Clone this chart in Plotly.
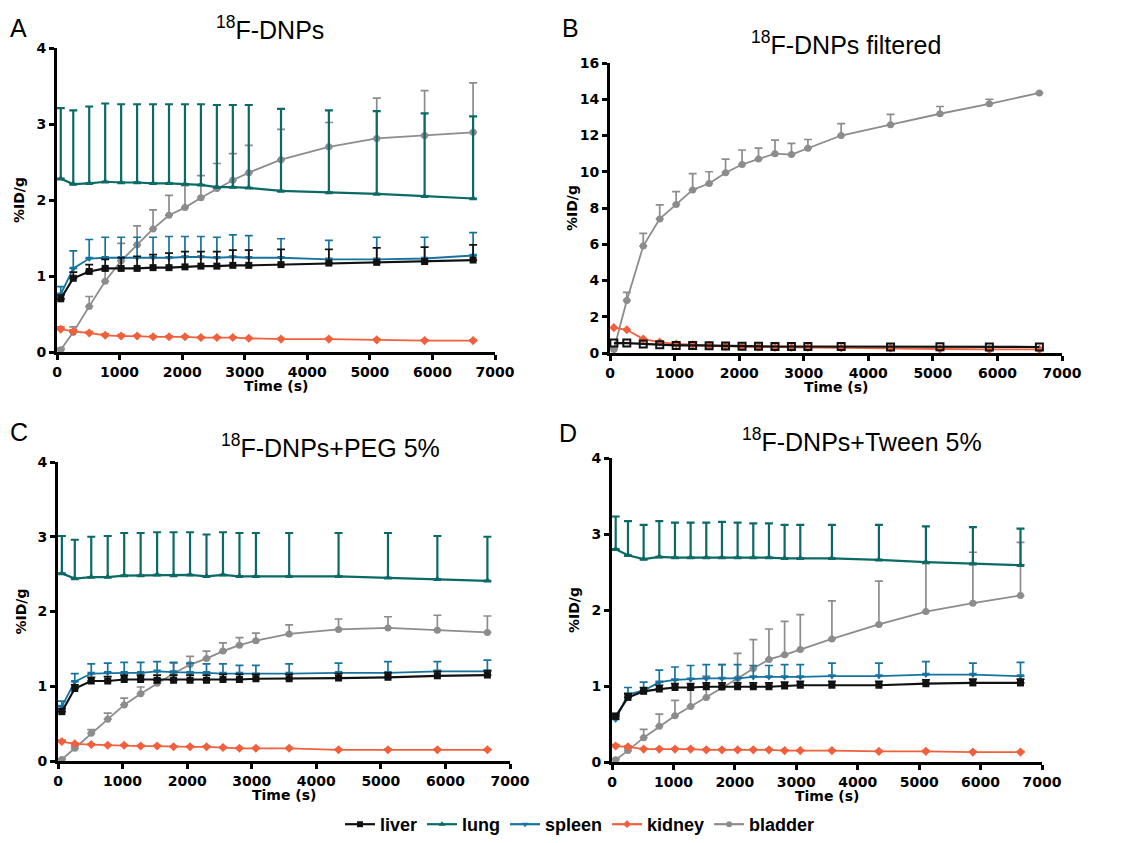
import plotly.graph_objects as go

# ---------------- data ----------------
time_s = [60, 260, 515, 770, 1025, 1280, 1535, 1790, 2045, 2300, 2555, 2810, 3065, 3580, 4345, 5110, 5875, 6650]

organs = ["liver", "lung", "spleen", "kidney", "bladder"]

# Panel A: 18F-DNPs
A_liver = [0.70, 0.97, 1.06, 1.10, 1.10, 1.10, 1.11, 1.11, 1.12, 1.13, 1.13, 1.14, 1.14, 1.15, 1.17, 1.18, 1.19, 1.21]
A_liver_up = [0.75, 1.05, 1.15, 1.22, 1.24, 1.26, 1.28, 1.30, 1.32, 1.32, 1.32, 1.34, 1.34, 1.35, 1.35, 1.37, 1.38, 1.41]
A_lung = [2.28, 2.21, 2.22, 2.24, 2.23, 2.23, 2.22, 2.22, 2.21, 2.20, 2.17, 2.17, 2.16, 2.12, 2.10, 2.08, 2.05, 2.02]
A_lung_up = [3.21, 3.18, 3.23, 3.27, 3.26, 3.26, 3.26, 3.26, 3.26, 3.26, 3.25, 3.25, 3.25, 3.20, 3.18, 3.17, 3.14, 3.10]
A_spleen = [0.76, 1.10, 1.23, 1.24, 1.24, 1.24, 1.24, 1.24, 1.25, 1.25, 1.24, 1.25, 1.24, 1.24, 1.22, 1.22, 1.23, 1.27]
A_spleen_up = [0.86, 1.33, 1.48, 1.51, 1.51, 1.51, 1.51, 1.52, 1.52, 1.52, 1.51, 1.54, 1.53, 1.49, 1.47, 1.51, 1.51, 1.57]
A_kidney = [0.30, 0.27, 0.25, 0.22, 0.21, 0.21, 0.20, 0.20, 0.20, 0.19, 0.19, 0.19, 0.18, 0.17, 0.17, 0.16, 0.15, 0.15]
A_kidney_up = [0.33, 0.29, 0.27, 0.24, 0.23, 0.22, 0.21, 0.21, 0.21, 0.20, 0.20, 0.20, 0.19, 0.18, 0.18, 0.17, 0.16, 0.16]
A_bladder = [0.03, 0.26, 0.60, 0.93, 1.20, 1.41, 1.62, 1.80, 1.90, 2.03, 2.15, 2.26, 2.36, 2.53, 2.70, 2.81, 2.85, 2.89]
A_bladder_up = [0.05, 0.33, 0.73, 1.07, 1.43, 1.66, 1.87, 2.06, 2.19, 2.32, 2.48, 2.61, 2.72, 2.93, 3.02, 3.34, 3.44, 3.54]

# Panel B: 18F-DNPs filtered
B_liver = [0.55, 0.55, 0.50, 0.45, 0.42, 0.42, 0.40, 0.38, 0.37, 0.37, 0.36, 0.36, 0.36, 0.36, 0.33, 0.35, 0.33, 0.33]
B_kidney = [1.40, 1.28, 0.77, 0.60, 0.50, 0.45, 0.40, 0.38, 0.35, 0.33, 0.30, 0.30, 0.30, 0.28, 0.27, 0.22, 0.20, 0.20]
B_bladder = [0.20, 2.90, 5.90, 7.40, 8.20, 9.00, 9.35, 9.95, 10.40, 10.70, 11.00, 10.95, 11.30, 12.00, 12.60, 13.20, 13.75, 14.35]
B_bladder_up = [0.30, 3.34, 6.60, 8.17, 8.90, 9.90, 10.00, 10.70, 11.20, 11.30, 11.74, 11.56, 11.78, 12.66, 13.17, 13.60, 14.00, 14.35]

# Panel C: 18F-DNPs+PEG 5%
C_liver = [0.66, 0.97, 1.07, 1.07, 1.09, 1.09, 1.08, 1.08, 1.08, 1.08, 1.09, 1.09, 1.10, 1.10, 1.11, 1.12, 1.14, 1.15]
C_liver_up = [0.70, 1.02, 1.12, 1.13, 1.15, 1.15, 1.15, 1.15, 1.15, 1.15, 1.16, 1.16, 1.16, 1.16, 1.17, 1.18, 1.20, 1.21]
C_lung = [2.51, 2.44, 2.46, 2.46, 2.48, 2.48, 2.49, 2.48, 2.49, 2.47, 2.49, 2.47, 2.47, 2.47, 2.47, 2.45, 2.43, 2.41]
C_lung_up = [3.01, 2.96, 3.00, 3.01, 3.05, 3.05, 3.06, 3.06, 3.06, 3.03, 3.06, 3.05, 3.05, 3.05, 3.05, 3.05, 3.01, 3.00]
C_spleen = [0.73, 1.06, 1.17, 1.18, 1.18, 1.18, 1.20, 1.19, 1.18, 1.18, 1.17, 1.17, 1.16, 1.17, 1.18, 1.18, 1.20, 1.20]
C_spleen_up = [0.80, 1.17, 1.30, 1.31, 1.32, 1.32, 1.33, 1.32, 1.31, 1.30, 1.30, 1.28, 1.28, 1.30, 1.31, 1.33, 1.33, 1.35]
C_kidney = [0.26, 0.23, 0.22, 0.21, 0.21, 0.20, 0.20, 0.19, 0.19, 0.19, 0.18, 0.17, 0.17, 0.17, 0.15, 0.15, 0.15, 0.15]
C_kidney_up = [0.28, 0.24, 0.23, 0.22, 0.22, 0.21, 0.21, 0.20, 0.20, 0.20, 0.19, 0.18, 0.18, 0.18, 0.16, 0.16, 0.16, 0.16]
C_bladder = [0.02, 0.17, 0.37, 0.56, 0.75, 0.90, 1.04, 1.17, 1.29, 1.37, 1.47, 1.55, 1.61, 1.70, 1.76, 1.78, 1.75, 1.72]
C_bladder_up = [0.03, 0.20, 0.42, 0.64, 0.84, 0.99, 1.10, 1.31, 1.40, 1.47, 1.58, 1.65, 1.71, 1.82, 1.90, 1.93, 1.95, 1.94]

# Panel D: 18F-DNPs+Tween 5%
D_liver = [0.60, 0.85, 0.93, 0.96, 0.98, 0.98, 0.99, 0.99, 0.99, 0.99, 0.99, 1.00, 1.01, 1.01, 1.01, 1.03, 1.04, 1.04]
D_liver_up = [0.64, 0.90, 0.98, 1.01, 1.03, 1.03, 1.04, 1.04, 1.04, 1.04, 1.04, 1.05, 1.06, 1.06, 1.06, 1.08, 1.09, 1.09]
D_lung = [2.80, 2.72, 2.67, 2.70, 2.69, 2.69, 2.69, 2.69, 2.69, 2.69, 2.69, 2.68, 2.68, 2.68, 2.66, 2.63, 2.61, 2.59]
D_lung_up = [3.23, 3.17, 3.12, 3.17, 3.15, 3.15, 3.15, 3.16, 3.15, 3.14, 3.14, 3.12, 3.12, 3.12, 3.12, 3.10, 3.09, 3.07]
D_spleen = [0.56, 0.89, 0.94, 1.05, 1.08, 1.09, 1.10, 1.10, 1.10, 1.12, 1.12, 1.12, 1.12, 1.13, 1.13, 1.15, 1.15, 1.13]
D_spleen_up = [0.62, 0.98, 1.05, 1.21, 1.25, 1.27, 1.28, 1.28, 1.28, 1.27, 1.27, 1.28, 1.28, 1.30, 1.30, 1.32, 1.30, 1.31]
D_kidney = [0.21, 0.20, 0.17, 0.17, 0.17, 0.17, 0.16, 0.16, 0.16, 0.16, 0.16, 0.15, 0.15, 0.15, 0.14, 0.14, 0.13, 0.13]
D_kidney_up = [0.23, 0.21, 0.18, 0.18, 0.18, 0.18, 0.17, 0.17, 0.17, 0.17, 0.17, 0.16, 0.16, 0.16, 0.15, 0.15, 0.14, 0.14]
D_bladder = [0.03, 0.15, 0.32, 0.47, 0.61, 0.73, 0.85, 0.98, 1.10, 1.23, 1.35, 1.41, 1.48, 1.62, 1.81, 1.98, 2.09, 2.19]
D_bladder_up = [0.04, 0.18, 0.43, 0.63, 0.81, 0.97, 1.13, 1.28, 1.43, 1.61, 1.75, 1.85, 1.94, 2.12, 2.38, 2.61, 2.76, 2.89]

panel_titles = ["<sup>18</sup>F-DNPs", "<sup>18</sup>F-DNPs filtered",
                "<sup>18</sup>F-DNPs+PEG 5%", "<sup>18</sup>F-DNPs+Tween 5%"]
panel_letters = ["A", "B", "C", "D"]
x_ticks = [0, 1000, 2000, 3000, 4000, 5000, 6000, 7000]

# ---------------- style ----------------
W, H = 1132, 843
colors = {"liver": "#111111", "lung": "#0b6a66", "spleen": "#1673a0",
          "kidney": "#f0603c", "bladder": "#8c8c8c"}
symbols = {"liver": "square", "lung": "triangle-up", "spleen": "triangle-down",
           "kidney": "diamond", "bladder": "circle"}


def PX(x):
    return x / W


def PY(y):
    return 1 - y / H


# pixel boxes (left, right, top, bottom)
boxes = [(57, 495, 48, 352), (610, 1062, 63, 353), (58, 510, 462, 761), (612, 1042, 458, 762)]
yranges = [[0, 4], [0, 16], [0, 4], [0, 4]]
ydticks = [1, 2, 1, 1]

panels = [
    {"liver": (A_liver, A_liver_up), "lung": (A_lung, A_lung_up), "spleen": (A_spleen, A_spleen_up),
     "kidney": (A_kidney, A_kidney_up), "bladder": (A_bladder, A_bladder_up)},
    {"liver": (B_liver, None), "kidney": (B_kidney, None), "bladder": (B_bladder, B_bladder_up)},
    {"liver": (C_liver, C_liver_up), "lung": (C_lung, C_lung_up), "spleen": (C_spleen, C_spleen_up),
     "kidney": (C_kidney, C_kidney_up), "bladder": (C_bladder, C_bladder_up)},
    {"liver": (D_liver, D_liver_up), "lung": (D_lung, D_lung_up), "spleen": (D_spleen, D_spleen_up),
     "kidney": (D_kidney, D_kidney_up), "bladder": (D_bladder, D_bladder_up)},
]

fig = go.Figure()
tickfont = dict(family="DejaVu Sans", size=14, color="black", weight="bold")
annotations = []

for i, (box, panel) in enumerate(zip(boxes, panels)):
    l, r, t, b = box
    sfx = "" if i == 0 else str(i + 1)
    xa, ya = "x" + sfx, "y" + sfx
    order = ["bladder", "kidney", "spleen", "lung", "liver"]
    for org in order:
        if org not in panel:
            continue
        vals, up = panel[org]
        err = None
        if up is not None:
            err = dict(type="data", symmetric=False,
                       array=[max(u - v, 0) for u, v in zip(up, vals)],
                       arrayminus=[0] * len(vals),
                       color=colors[org], thickness=2.2 if org == "lung" else 1.7, width=4)
        sym = symbols[org]
        mline = dict(width=0)
        if i == 1 and org == "liver":
            sym = "square-open"
            mline = dict(width=2, color=colors[org])
        fig.add_trace(go.Scatter(
            x=time_s, y=vals, name=org, mode="lines+markers",
            line=dict(color=colors[org], width=2.2 if org in ("liver", "lung") else 1.8),
            marker=dict(symbol=sym, size=7, color=colors[org], line=mline),
            error_y=err, xaxis=xa, yaxis=ya,
            showlegend=False))
    fig.layout["xaxis" + sfx] = dict(
        domain=[PX(l), PX(r)], range=[0, 7000], tickvals=x_ticks, showline=True, linewidth=3,
        linecolor="black", ticks="outside", ticklen=5, tickwidth=2.5, tickcolor="black",
        showgrid=False, zeroline=False, tickfont=tickfont, anchor=ya, automargin=False)
    fig.layout["yaxis" + sfx] = dict(
        domain=[PY(b), PY(t)], range=yranges[i], dtick=ydticks[i], showline=True, linewidth=3,
        linecolor="black", ticks="outside", ticklen=5, tickwidth=2.5, tickcolor="black",
        showgrid=False, zeroline=False, tickfont=tickfont, anchor=xa, automargin=False)
    annotations.append(dict(text="Time (s)", x=PX((l + r) / 2), y=PY(b + 34),
                            xref="paper", yref="paper", showarrow=False,
                            font=dict(family="DejaVu Sans", size=14, color="black", weight="bold"),
                            xanchor="center", yanchor="middle"))
    annotations.append(dict(text="%ID/g", x=PX(l - 38), y=PY((t + b) / 2),
                            xref="paper", yref="paper", showarrow=False, textangle=-90,
                            font=dict(family="DejaVu Sans", size=14, color="black", weight="bold"),
                            xanchor="center", yanchor="middle"))

title_pos = [(270, 28), (846, 43), (330, 446), (862, 440)]
letter_pos = [(18, 28), (570, 28), (19, 432), (568, 433)]
for (tx, ty), txt in zip(title_pos, panel_titles):
    annotations.append(dict(text=txt, x=PX(tx), y=PY(ty), xref="paper", yref="paper",
                            showarrow=False, xanchor="center", yanchor="middle",
                            font=dict(family="Liberation Sans", size=25, color="black")))
for (lx, ly), txt in zip(letter_pos, panel_letters):
    annotations.append(dict(text=txt, x=PX(lx), y=PY(ly), xref="paper", yref="paper",
                            showarrow=False, xanchor="center", yanchor="middle",
                            font=dict(family="Liberation Sans", size=25, color="black")))

# legend entries
for org in organs:
    fig.add_trace(go.Scatter(
        x=[None], y=[None], name=org, mode="lines+markers",
        line=dict(color=colors[org], width=2.2),
        marker=dict(symbol=symbols[org], size=6, color=colors[org]),
        showlegend=True, xaxis="x", yaxis="y"))

fig.update_layout(
    width=W, height=H, margin=dict(l=0, r=0, t=0, b=0, autoexpand=False),
    paper_bgcolor="white", plot_bgcolor="white",
    annotations=annotations,
    legend=dict(orientation="h", x=PX(580), xanchor="center", y=0.0, yanchor="bottom",
                font=dict(family="Liberation Sans", size=18, color="black", weight="bold"),
                itemwidth=30, tracegroupgap=0, bgcolor="rgba(0,0,0,0)"),
)

fig.write_html("out.html", config={"displayModeBar": False},
               post_script="document.body.style.margin='0';document.body.style.overflow='hidden';")
